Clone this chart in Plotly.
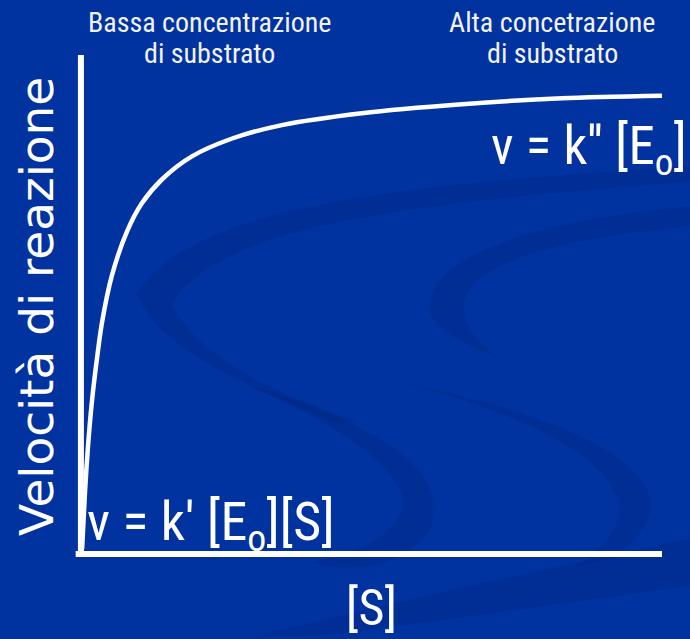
import plotly.graph_objects as go

# curva velocità / concentrazione (unità arbitrarie 0-100)
conc_s = [0.7, 1.2, 1.7, 2.4, 3.3, 4.1, 5.8, 8.4, 10.9, 14.4, 19.5, 26.4, 34.9, 48.6, 65.8, 82.9, 100]
velocita = [0.6, 12.1, 21.1, 30.5, 39.4, 46.1, 55.6, 64.5, 70.1, 75.0, 79.6, 83.2, 85.9, 88.3, 90.1, 91.3, 91.8]

etichette_alto = ["Bassa concentrazione", "Alta concetrazione"]
sottotitolo = "di substrato"
eq_alta = "v = k'' [E<sub>o</sub>]"
eq_bassa = "v = k' [E<sub>o</sub>][S]"
titolo_x = "[S]"
titolo_y = "Velocità di reazione"

sfondo = "#0033a0"
scuro = "rgba(0,30,110,0.22)"
bianco = "#ffffff"
narrow = "Roboto Condensed, DejaVu Sans Condensed, sans-serif"

fig = go.Figure()
fig.add_trace(go.Scatter(
    x=conc_s, y=velocita, mode="lines",
    line=dict(color=bianco, width=4.5, shape="spline", smoothing=0.8),
    hoverinfo="skip", showlegend=False,
))

# bande decorative dello sfondo (coordinate paper)
bande = [
    "M 0.10,0.52 C 0.20,0.70 0.55,0.74 1.10,0.78 L 1.10,0.75 C 0.55,0.70 0.25,0.66 0.16,0.50 C 0.22,0.36 0.40,0.30 0.48,0.26 L 0.44,0.26 C 0.32,0.32 0.14,0.40 0.10,0.52 Z",
    "M 0.60,0.50 C 0.62,0.62 0.85,0.68 1.10,0.70 L 1.10,0.66 C 0.88,0.64 0.68,0.60 0.66,0.50 C 0.66,0.44 0.70,0.41 0.72,0.39 C 0.66,0.42 0.60,0.45 0.60,0.50 Z",
    "M 0.28,0.34 C 0.45,0.28 0.66,0.18 0.60,0.04 C 0.55,-0.04 0.45,-0.04 0.40,-0.02 C 0.50,0.00 0.58,0.06 0.55,0.13 C 0.50,0.22 0.40,0.28 0.28,0.34 Z",
    "M 0.55,0.34 C 0.75,0.30 1.00,0.20 0.98,0.08 C 0.96,0.00 0.90,-0.02 0.85,-0.03 C 0.92,0.02 0.94,0.08 0.92,0.12 C 0.88,0.22 0.70,0.30 0.55,0.34 Z",
    "M 0.30,-0.17 C 0.55,-0.10 0.85,-0.02 1.10,0.04 L 1.10,-0.06 C 0.85,-0.10 0.55,-0.15 0.40,-0.17 Z",
]
for p in bande:
    fig.add_shape(type="path", path=p, xref="paper", yref="paper",
                  fillcolor=scuro, line=dict(width=0), layer="below")

# assi
fig.add_shape(type="line", xref="paper", yref="paper", x0=0.005, y0=-0.004, x1=0.005, y1=1.0,
              line=dict(color=bianco, width=6))
fig.add_shape(type="line", xref="paper", yref="paper", x0=-0.004, y0=-0.004, x1=1.0, y1=-0.004,
              line=dict(color=bianco, width=6))

testo = dict(color="#f2f2f2", family=narrow, size=28)
fig.add_annotation(x=0.226, y=1.066, text=etichette_alto[0], font=testo)
fig.add_annotation(x=0.226, y=1.004, text=sottotitolo, font=testo)
fig.add_annotation(x=0.812, y=1.066, text=etichette_alto[1], font=testo)
fig.add_annotation(x=0.812, y=1.004, text=sottotitolo, font=testo)

fig.add_annotation(x=1.046, y=0.81, xanchor="right", text=eq_alta,
                   font=dict(size=53, color=bianco, family=narrow))
fig.add_annotation(x=0.012, y=0.055, xanchor="left", text=eq_bassa,
                   font=dict(size=54, color=bianco, family=narrow))
fig.add_annotation(x=0.502, y=-0.113, text=titolo_x,
                   font=dict(size=50, color=bianco, family=narrow))
fig.add_annotation(x=-0.070, y=0.493, text=titolo_y, textangle=-90,
                   font=dict(size=47, color=bianco, family="DejaVu Sans, Verdana, sans-serif"))

for a in fig.layout.annotations:
    a.update(xref="paper", yref="paper", showarrow=False)
    if a.xanchor is None:
        a.update(xanchor="center")
    a.update(yanchor="middle")

fig.update_layout(
    width=690, height=639,
    margin=dict(l=78, r=28, t=55, b=87),
    paper_bgcolor=sfondo, plot_bgcolor="rgba(0,0,0,0)",
    xaxis=dict(range=[0, 100], visible=False),
    yaxis=dict(range=[0, 100], visible=False),
    showlegend=False,
)

fig.write_html("out.html", config={"displayModeBar": False},
               post_script="document.body.style.margin='0';")
